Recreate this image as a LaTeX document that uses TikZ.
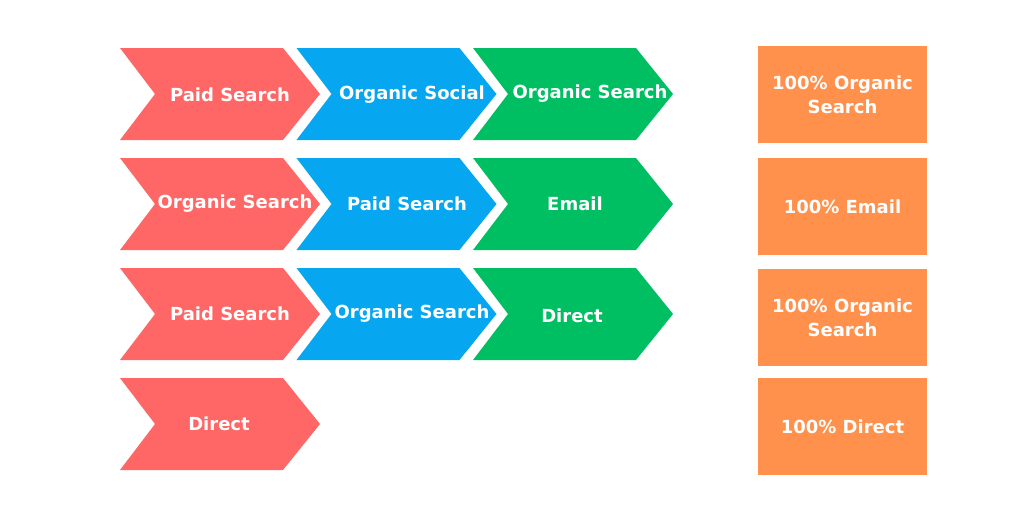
\documentclass[tikz,border=0pt]{standalone}
\usepackage{fontspec}
\setmainfont{DejaVu Sans}
\usepackage{tikz}
\usetikzlibrary{positioning}

\definecolor{chevred}{HTML}{FF6666}
\definecolor{chevblue}{HTML}{06A6F0}
\definecolor{chevgreen}{HTML}{00BF63}
\definecolor{resorange}{HTML}{FF914D}

% chevron: top-left x, top-left y, colour
\newcommand{\chevron}[3]{%
  \fill[#3] (#1,#2) -- ++(163,0) -- ++(37,46) -- ++(-37,46) -- ++(-163,0) -- ++(35,-46) -- cycle;}

\begin{document}
\begin{tikzpicture}[x=1pt, y=-1pt]
            % Define styles
            \tikzstyle{lbl} = [text=white, font=\bfseries\fontsize{18}{21}\selectfont, inner sep=0pt]
            \tikzstyle{result} = [rectangle, fill=resorange, text=white, minimum width=169pt, minimum height=97pt, align=center, inner sep=0pt, font=\bfseries\fontsize{18}{24}\selectfont]

            \useasboundingbox (0,0) rectangle (1024,512);

            % Row 1
            \chevron{120}{48}{chevred}
            \chevron{296.5}{48}{chevblue}
            \chevron{473}{48}{chevgreen}
            \node[lbl] (r1a) at (230,95) {Paid Search};
            \node[lbl] (r1b) at (412,95) {Organic Social};
            \node[lbl] (r1c) at (590,94) {Organic Search};

            % Row 2
            \chevron{120}{158}{chevred}
            \chevron{296.5}{158}{chevblue}
            \chevron{473}{158}{chevgreen}
            \node[lbl] (r2a) at (235,204) {Organic Search};
            \node[lbl] (r2b) at (407,204) {Paid Search};
            \node[lbl] (r2c) at (575,204) {Email};

            % Row 3
            \chevron{120}{268}{chevred}
            \chevron{296.5}{268}{chevblue}
            \chevron{473}{268}{chevgreen}
            \node[lbl] (r3a) at (230,314) {Paid Search};
            \node[lbl] (r3b) at (412,314) {Organic Search};
            \node[lbl] (r3c) at (572,316) {Direct};

            % Row 4
            \chevron{120}{378}{chevred}
            \node[lbl] (r4a) at (219,424) {Direct};

            % Results
            \node[result] (res1) at (842.5,94.5) {100\% Organic\\Search};
            \node[result] (res2) at (842.5,206.5) {100\% Email};
            \node[result] (res3) at (842.5,317.5) {100\% Organic\\Search};
            \node[result] (res4) at (842.5,426.5) {100\% Direct};
\end{tikzpicture}
\end{document}
